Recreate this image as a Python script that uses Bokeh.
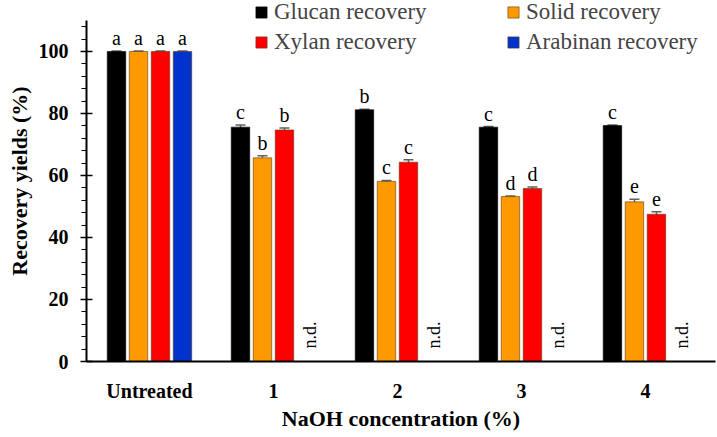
import math
from bokeh.models import ColumnDataSource, Range1d, Whisker, Legend, LegendItem, FixedTicker, TeeHead
from bokeh.plotting import figure
from bokeh.core.properties import value
from bokeh.embed import file_html
from bokeh.resources import INLINE

groups = ["Untreated", "1", "2", "3", "4"]

glucan = [100, 75.6, 81.2, 75.6, 76.1]
glucan_err = [0.2, 0.7, 0.2, 0.2, 0.2]
glucan_lbl = ["a", "c", "b", "c", "c"]

solid = [100, 65.7, 58.1, 53.2, 51.5]
solid_err = [0.2, 0.7, 0.3, 0.2, 0.8]
solid_lbl = ["a", "b", "c", "d", "e"]

xylan = [100, 74.7, 64.3, 55.8, 47.5]
xylan_err = [0.2, 0.6, 0.8, 0.5, 0.8]
xylan_lbl = ["a", "b", "c", "d", "e"]

arabinan = [100, None, None, None, None]
arabinan_err = [0.2, None, None, None, None]
arabinan_lbl = ["a", "n.d.", "n.d.", "n.d.", "n.d."]

series = [
    ("Glucan recovery", glucan, glucan_err, glucan_lbl, "#000000"),
    ("Solid recovery", solid, solid_err, solid_lbl, "#FF9900"),
    ("Xylan recovery", xylan, xylan_err, xylan_lbl, "#FF0000"),
    ("Arabinan recovery", arabinan, arabinan_err, arabinan_lbl, "#0033CC"),
]

FONT = "Liberation Serif"
slot = 0.1774
bar_w = 0.149

# frame reaches the top so the legend is not clipped; the y axis line stops at 110
p = figure(width=716, height=436, output_backend="svg", toolbar_location=None,
           x_range=Range1d(-0.508, 4.565), y_range=Range1d(0, 116.45),
           min_border_left=86, min_border_right=1, min_border_top=0, min_border_bottom=75)
p.outline_line_color = None
p.grid.grid_line_color = None

renderers = []
for i, (name, vals, errs, lbls, col) in enumerate(series):
    off = (i - 1.5) * slot
    xs, tops, lo, hi, lt = [], [], [], [], []
    ndx = []
    for g in range(len(groups)):
        if vals[g] is None:
            ndx.append(g + off)
            continue
        xs.append(g + off)
        tops.append(vals[g])
        lo.append(vals[g] - errs[g])
        hi.append(vals[g] + errs[g])
        lt.append(lbls[g])
    src = ColumnDataSource(dict(x=xs, top=tops, lower=lo, upper=hi, lbl=lt))
    r = p.vbar(x="x", top="top", width=bar_w, source=src, fill_color=col,
               line_color="#5a3a1a" if col != "#000000" else "#000000", line_width=0.6)
    renderers.append((name, r))
    w = Whisker(base="x", upper="upper", lower="lower", source=src, line_color="#606060",
                line_width=1.5,
                upper_head=TeeHead(size=10, line_color="#606060", line_width=1.5),
                lower_head=TeeHead(size=10, line_color="#606060", line_width=1.5))
    p.add_layout(w)
    p.text(x="x", y="upper", text="lbl", source=src, text_align="center",
           text_baseline="alphabetic", y_offset=-13, text_font=value(FONT),
           text_font_size="20px", text_color="#000000")
    if ndx:
        nsrc = ColumnDataSource(dict(x=ndx, y=[0] * len(ndx), t=["n.d."] * len(ndx)))
        p.text(x="x", y="y", text="t", source=nsrc, angle=math.pi / 2, text_align="left",
               text_baseline="middle", x_offset=4, y_offset=-13, text_font=value(FONT),
               text_font_size="18px", text_color="#000000")

p.xaxis.ticker = FixedTicker(ticks=list(range(len(groups))))
p.xaxis.major_label_overrides = {i: g for i, g in enumerate(groups)}
p.xaxis.major_tick_line_color = None
p.xaxis.minor_tick_line_color = None
p.xaxis.major_tick_out = 0
p.xaxis.major_tick_in = 0
p.xaxis.axis_line_width = 2
p.xaxis.major_label_standoff = 18
p.xaxis.axis_label = "NaOH concentration (%)"
p.xaxis.axis_label_standoff = 1

p.yaxis.bounds = (0, 110)
p.yaxis.ticker = FixedTicker(ticks=[0, 20, 40, 60, 80, 100],
                             minor_ticks=list(range(0, 110, 4)))
p.yaxis.axis_line_width = 2
p.yaxis.major_tick_in = 6
p.yaxis.major_tick_out = 6
p.yaxis.minor_tick_in = 0
p.yaxis.minor_tick_out = 5
p.yaxis.major_tick_line_width = 1.5
p.yaxis.minor_tick_line_width = 1.2
p.yaxis.major_label_standoff = 12
p.yaxis.axis_label = "Recovery yields (%)"
p.yaxis.axis_label_standoff = 4

for ax in (p.xaxis, p.yaxis):
    ax.major_label_text_font = FONT
    ax.major_label_text_font_style = "bold"
    ax.major_label_text_font_size = "20px"
    ax.major_label_text_color = "#000000"
    ax.axis_label_text_font = FONT
    ax.axis_label_text_font_style = "bold"
    ax.axis_label_text_font_size = "22px"
    ax.axis_label_text_color = "#000000"
    ax.axis_line_color = "#000000"

items = [LegendItem(label=n, renderers=[r]) for n, r in renderers]
legend = Legend(items=items, location=(168, 306), ncols=2, orientation="horizontal",
                padding=0, margin=0, spacing=4, label_standoff=6,
                glyph_width=14, glyph_height=14, label_width=228, label_height=24,
                label_text_font=FONT, label_text_font_size="23px",
                background_fill_alpha=0, border_line_color=None)
p.add_layout(legend, "center")

open("out.html", "w").write(file_html(p, INLINE))
